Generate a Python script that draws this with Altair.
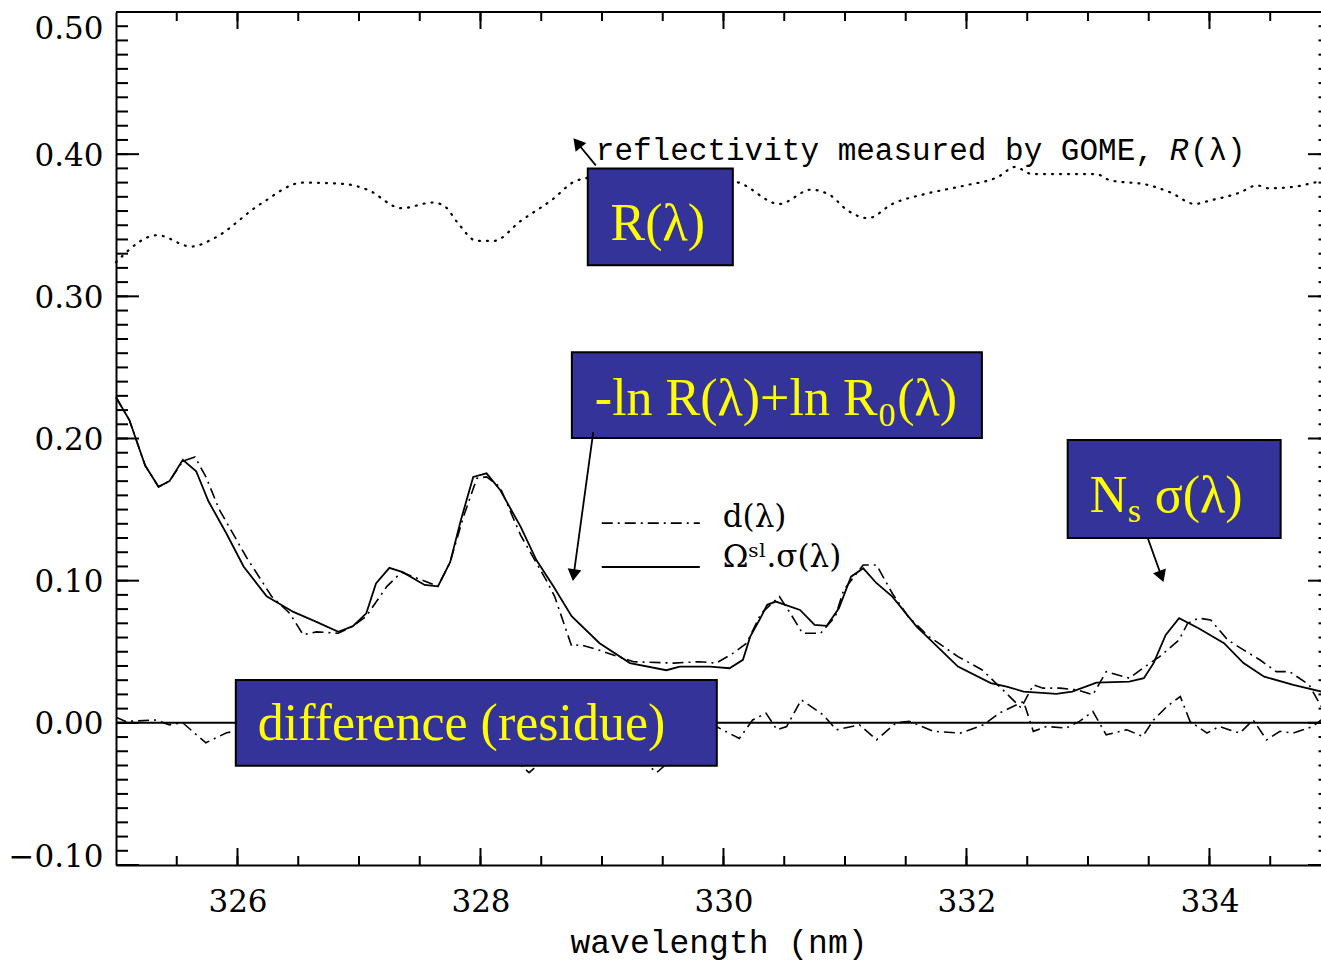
import altair as alt
import pandas as pd

# ---------------- data ----------------
refl_wl = [325.00, 325.34, 325.62, 325.81, 326.19, 326.54, 326.88, 327.07, 327.35, 327.61,
           327.71, 327.81, 327.97, 328.11, 328.33, 328.59, 328.78, 328.95, 329.25, 329.55,
           329.85, 330.09, 330.46, 330.72, 330.88, 331.02, 331.19, 331.39, 331.66, 331.99,
           332.26, 332.40, 332.54, 332.84, 333.07, 333.17, 333.51, 333.68, 333.88, 334.01,
           334.25, 334.39, 334.49, 334.69, 334.89, 334.92]
refl_val = [0.324, 0.343, 0.335, 0.341, 0.365, 0.380, 0.379, 0.375, 0.362, 0.366,
            0.363, 0.352, 0.339, 0.339, 0.353, 0.368, 0.381, 0.384, 0.385, 0.383,
            0.381, 0.3805, 0.365, 0.375, 0.371, 0.3605, 0.355, 0.365, 0.372, 0.378,
            0.384, 0.391, 0.386, 0.386, 0.386, 0.382, 0.378, 0.373, 0.365, 0.3675,
            0.373, 0.378, 0.376, 0.377, 0.3805, 0.381]

fit_wl = [325.00, 325.11, 325.24, 325.35, 325.44, 325.55, 325.66, 325.76, 325.91, 326.05,
          326.24, 326.32, 326.46, 326.65, 326.83, 326.95, 327.06, 327.14, 327.25, 327.36,
          327.54, 327.65, 327.75, 327.84, 327.94, 328.05, 328.16, 328.33, 328.46, 328.60,
          328.75, 328.98, 329.23, 329.53, 329.64, 329.89, 330.05, 330.16, 330.22, 330.30,
          330.36, 330.43, 330.63, 330.75, 330.85, 330.95, 331.05, 331.15, 331.26, 331.39,
          331.59, 331.93, 332.20, 332.33, 332.47, 332.74, 332.87, 333.07, 333.34, 333.46,
          333.54, 333.64, 333.75, 333.91, 334.12, 334.28, 334.45, 334.69, 334.92]
fit_val = [0.229, 0.213, 0.181, 0.166, 0.170, 0.185, 0.177, 0.156, 0.133, 0.110,
           0.089, 0.085, 0.078, 0.071, 0.064, 0.068, 0.077, 0.098, 0.109, 0.106,
           0.097, 0.096, 0.113, 0.143, 0.173, 0.1755, 0.164, 0.138, 0.1145, 0.096,
           0.075, 0.056, 0.042, 0.037, 0.0396, 0.0396, 0.0384, 0.0443, 0.0606, 0.073,
           0.083, 0.0853, 0.0794, 0.0689, 0.0682, 0.0806, 0.1028, 0.1087, 0.0982, 0.0888,
           0.0677, 0.0396, 0.0279, 0.0255, 0.022, 0.0204, 0.022, 0.0283, 0.029, 0.0314,
           0.042, 0.0618, 0.0736, 0.0665, 0.056, 0.042, 0.0325, 0.0267, 0.022]

dod_wl = [325.00, 325.11, 325.24, 325.35, 325.44, 325.55, 325.65, 325.74, 325.85, 326.07,
          326.28, 326.43, 326.54, 326.65, 326.83, 326.95, 327.06, 327.23, 327.35, 327.56,
          327.65, 327.75, 327.86, 327.97, 328.05, 328.16, 328.33, 328.54, 328.61, 328.75,
          328.82, 328.98, 329.26, 329.59, 329.80, 329.94, 330.08, 330.19, 330.31, 330.46,
          330.55, 330.65, 330.80, 330.92, 330.99, 331.15, 331.26, 331.39, 331.52, 331.69,
          331.93, 332.13, 332.30, 332.45, 332.55, 332.63, 332.77, 332.91, 333.04, 333.15,
          333.34, 333.45, 333.59, 333.75, 333.82, 333.91, 334.01, 334.15, 334.28, 334.42,
          334.55, 334.66, 334.82, 334.92]
dod_val = [0.229, 0.213, 0.181, 0.166, 0.170, 0.184, 0.187, 0.173, 0.150, 0.117,
           0.089, 0.077, 0.062, 0.064, 0.063, 0.068, 0.075, 0.096, 0.106, 0.099,
           0.096, 0.113, 0.145, 0.172, 0.173, 0.166, 0.132, 0.1005, 0.089, 0.054,
           0.055, 0.051, 0.043, 0.042, 0.043, 0.042, 0.049, 0.056, 0.077, 0.0888,
           0.0771, 0.063, 0.063, 0.0747, 0.0935, 0.111, 0.111, 0.091, 0.0747, 0.0607,
           0.0466, 0.0372, 0.0232, 0.0105, 0.0267, 0.0244, 0.0244, 0.0232, 0.0197, 0.036,
           0.0314, 0.0384, 0.0466, 0.0583, 0.070, 0.0736, 0.0724, 0.0583, 0.0513, 0.044,
           0.036, 0.036, 0.0267, 0.0115]

res_wl = [325.00, 325.08, 325.33, 325.44, 325.55, 325.63, 325.74, 325.91, 325.98, 326.20,
          326.50, 326.80, 327.10, 327.40, 327.70, 328.00, 328.20, 328.40, 328.60, 328.80,
          329.05, 329.25, 329.45, 329.65, 329.82, 329.94, 330.13, 330.24, 330.35, 330.44,
          330.52, 330.64, 330.82, 330.93, 331.12, 331.26, 331.42, 331.53, 331.73, 331.95,
          332.14, 332.27, 332.47, 332.55, 332.66, 332.82, 332.93, 333.04, 333.15, 333.32,
          333.45, 333.54, 333.65, 333.76, 333.84, 333.98, 334.08, 334.25, 334.36, 334.47,
          334.58, 334.69, 334.85, 334.92]
res_val = [0.004, 0.001, 0.002, -0.0014, 0.000, -0.006, -0.014, -0.007, -0.006, -0.004,
           -0.010, -0.005, -0.012, -0.008, -0.004, -0.012, -0.020, -0.035, -0.020, -0.010,
           -0.005, -0.020, -0.035, -0.020, -0.010, -0.0026, -0.011, 0.002, 0.0068, -0.0049,
           -0.0026, 0.0162, 0.0056, -0.0049, -0.0014, -0.012, 0.000, 0.001, -0.006, -0.0072,
           -0.0014, 0.0068, 0.015, -0.006, -0.0026, -0.0037, 0.001, 0.008, -0.0084, -0.0049,
           -0.0096, 0.002, 0.0115, 0.0185, 0.001, -0.0072, -0.0026, -0.0072, 0.002, -0.012,
           -0.006, -0.0072, -0.0026, 0.002]

x_major_ticks = [326, 328, 330, 332, 334]
x_minor_ticks = [325.5 + 0.5 * i for i in range(19)]
y_major_ticks = [-0.10, 0.00, 0.10, 0.20, 0.30, 0.40, 0.50]
y_minor_ticks = [round(-0.10 + 0.01 * i, 2) for i in range(61)]

# ---------------- layout ----------------
X_MIN, X_MAX = 325.0, 334.918
Y_MIN, Y_MAX = -0.10, 0.50
W, H = 1205, 853
xs = alt.Scale(domain=[X_MIN, X_MAX], nice=False, zero=False)
ys = alt.Scale(domain=[Y_MIN, Y_MAX], nice=False, zero=False)
BLACK = "black"
BOX_FILL = "#333399"
YELLOW = "#FFFF00"
DASHDOT = [11, 5, 2, 5]

x_axis = alt.Axis(values=x_major_ticks, format="d", ticks=False, tickSize=0, grid=False,
                  domain=True, domainWidth=2, domainColor=BLACK,
                  labelFont="DejaVu Serif", labelFontSize=31, labelColor=BLACK, labelPadding=22,
                  title="wavelength (nm)", titleFont="Liberation Mono", titleFontSize=33,
                  titleFontWeight="normal", titleColor=BLACK, titlePadding=9)
y_axis = alt.Axis(values=y_major_ticks, format=".2f", ticks=False, tickSize=0, grid=False,
                  domain=True, domainWidth=2, domainColor=BLACK,
                  labelFont="DejaVu Serif", labelFontSize=31, labelColor=BLACK, labelPadding=13,
                  labelFlush=False,
                  labelBaseline={"condition": {"test": "datum.value > 0.45", "value": "top"},
                                 "value": "middle"},
                  labelOffset={"condition": {"test": "datum.value < -0.05", "value": -8},
                               "value": 2},
                  title=None)


def X(field="x"):
    return alt.X(f"{field}:Q", scale=xs, axis=x_axis, title="wavelength (nm)")


def Y(field="y"):
    return alt.Y(f"{field}:Q", scale=ys, axis=y_axis, title=None)


def line_df(wl, val):
    return pd.DataFrame({"x": wl, "y": val})


fit_layer = alt.Chart(line_df(fit_wl, fit_val)).mark_line(color=BLACK, strokeWidth=1.8).encode(
    x=X(), y=Y(), order="x:Q")
dod_layer = alt.Chart(line_df(dod_wl, dod_val)).mark_line(
    color=BLACK, strokeWidth=1.6, strokeDash=DASHDOT).encode(x=X(), y=Y(), order="x:Q")
res_layer = alt.Chart(line_df(res_wl, res_val)).mark_line(
    color=BLACK, strokeWidth=1.6, strokeDash=DASHDOT).encode(x=X(), y=Y(), order="x:Q")
refl_layer = alt.Chart(line_df(refl_wl, refl_val)).mark_line(
    color=BLACK, strokeWidth=2.2, strokeDash=[1, 7], strokeCap="round",
    interpolate="monotone").encode(x=X(), y=Y(), order="x:Q")

zero_layer = alt.Chart(pd.DataFrame({"y": [0.0]})).mark_rule(color=BLACK, strokeWidth=2).encode(y=Y())
top_layer = alt.Chart(pd.DataFrame({"y": [Y_MAX]})).mark_rule(color=BLACK, strokeWidth=2).encode(y=Y())


# inward ticks on all four sides
def xticks(vals, length):
    d = pd.DataFrame({"x": vals})
    bottom = alt.Chart(d).mark_rule(color=BLACK, strokeWidth=2).encode(
        x=X(), y=alt.value(H), y2=alt.value(H - length))
    top = alt.Chart(d).mark_rule(color=BLACK, strokeWidth=2).encode(
        x=X(), y=alt.value(0), y2=alt.value(length))
    return [bottom, top]


def yticks(vals, length, right_len):
    d = pd.DataFrame({"y": vals})
    left = alt.Chart(d).mark_rule(color=BLACK, strokeWidth=2).encode(
        y=Y(), x=alt.value(0), x2=alt.value(length))
    right = alt.Chart(d).mark_rule(color=BLACK, strokeWidth=2).encode(
        y=Y(), x=alt.value(W), x2=alt.value(W - right_len))
    return [left, right]


tick_layers = (xticks(x_minor_ticks, 9) + xticks(x_major_ticks, 17)
               + yticks(y_minor_ticks, 12, 2.5) + yticks(y_major_ticks, 23, 13))

# ---------------- annotations ----------------
boxes = pd.DataFrame({
    "x": [328.883, 328.752, 332.833, 325.986],
    "x2": [330.077, 332.127, 334.586, 329.945],
    "y": [0.3900, 0.2607, 0.1989, 0.0302],
    "y2": [0.3219, 0.2003, 0.1300, -0.0302],
})
box_layer = alt.Chart(boxes).mark_rect(fill=BOX_FILL, stroke=BLACK, strokeWidth=2).encode(
    x=X("x"), x2="x2:Q", y=Y("y"), y2="y2:Q")

big_text = pd.DataFrame({
    "x": [328.941, 331.430, 333.014, 333.549, 326.167],
    "y": [0.2164, 0.2164, 0.1483, 0.1483, -0.0119],
    "t": ["-ln R(λ)+ln R", "(λ)", "N", "σ(λ)", "difference (residue)"],
})
big_text_layer = alt.Chart(big_text).mark_text(
    font="Liberation Serif", fontSize=52, color=YELLOW, align="left", baseline="alphabetic").encode(
    x=X(), y=Y(), text="t:N")
r_text_layer = alt.Chart(pd.DataFrame({"x": [329.459], "y": [0.3394], "t": ["R(λ)"]})).mark_text(
    font="Liberation Serif", fontSize=52, color=YELLOW, align="center", baseline="alphabetic").encode(
    x=X(), y=Y(), text="t:N")
sub_text = pd.DataFrame({"x": [331.275, 333.327], "y": [0.2087, 0.1413], "t": ["0", "s"]})
sub_text_layer = alt.Chart(sub_text).mark_text(
    font="Liberation Serif", fontSize=34, color=YELLOW, align="left", baseline="alphabetic").encode(
    x=X(), y=Y(), text="t:N")

refl_label = alt.Chart(pd.DataFrame({"x": [328.949, 333.839], "y": [0.3956, 0.3956],
                                     "t": ["reflectivity measured by GOME,", "(λ)"]})).mark_text(
    font="Liberation Mono", fontSize=31, color=BLACK, align="left", baseline="alphabetic").encode(
    x=X(), y=Y(), text="t:N")
refl_label_r = alt.Chart(pd.DataFrame({"x": [333.674], "y": [0.3956], "t": ["R"]})).mark_text(
    font="Liberation Mono", fontSize=31, fontStyle="italic", color=BLACK, align="left",
    baseline="alphabetic").encode(x=X(), y=Y(), text="t:N")

legend_dd = alt.Chart(pd.DataFrame({"x": [328.998], "x2": [329.805], "y": [0.1405]})).mark_rule(
    color=BLACK, strokeWidth=1.6, strokeDash=DASHDOT).encode(x=X(), x2="x2:Q", y=Y())
legend_solid = alt.Chart(pd.DataFrame({"x": [328.998], "x2": [329.805], "y": [0.1096]})).mark_rule(
    color=BLACK, strokeWidth=1.8).encode(x=X(), x2="x2:Q", y=Y())
legend_text = alt.Chart(pd.DataFrame({"x": [329.994, 329.994], "y": [0.1377, 0.1096],
                                      "t": ["d(λ)", "Ωˢˡ.σ(λ)"]})).mark_text(
    font="DejaVu Serif", fontSize=31, color=BLACK, align="left", baseline="alphabetic").encode(
    x=X(), y=Y(), text="t:N")

arrows = pd.DataFrame({
    "x": [328.949, 328.928, 333.492],
    "y": [0.3921, 0.2045, 0.1300],
    "x2": [328.796, 328.767, 333.605],
    "y2": [0.4080, 0.1039, 0.1030],
    "a": [321, 188, 160],
})
arrow_lines = alt.Chart(arrows).mark_rule(color=BLACK, strokeWidth=1.8).encode(
    x=X(), y=Y(), x2="x2:Q", y2="y2:Q")
arrow_heads = alt.Chart(arrows).mark_point(shape="triangle-up", filled=True, color=BLACK,
                                           size=190, opacity=1).encode(
    x=X("x2"), y=Y("y2"), angle=alt.Angle("a:Q", scale=None))

chart = alt.layer(
    fit_layer, dod_layer, res_layer, refl_layer, zero_layer, top_layer,
    *tick_layers,
    box_layer, big_text_layer, r_text_layer, sub_text_layer,
    refl_label, refl_label_r,
    legend_dd, legend_solid, legend_text,
    arrow_lines, arrow_heads,
).properties(
    width=W, height=H,
    padding={"left": 116, "top": 12, "right": 0, "bottom": 96},
    autosize=alt.AutoSizeParams(type="none"),
    background="white",
).configure_view(stroke=None)

chart.save("out.html", embed_options={"renderer": "svg", "actions": False})
